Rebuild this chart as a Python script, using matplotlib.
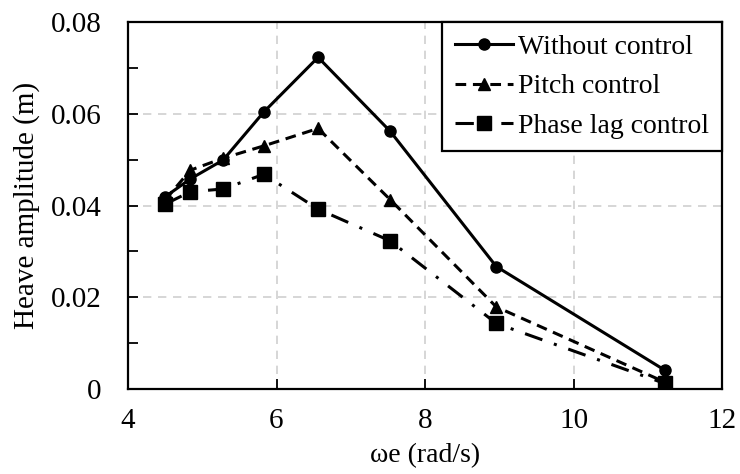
import matplotlib.pyplot as plt
from matplotlib.ticker import MultipleLocator

# values
we = [4.50, 4.84, 5.28, 5.83, 6.56, 7.53, 8.96, 11.23]
without_control = [0.0419, 0.0458, 0.0499, 0.0604, 0.0723, 0.0562, 0.0267, 0.0041]
pitch_control = [0.0412, 0.0477, 0.0503, 0.0530, 0.0568, 0.0413, 0.0179, 0.0015]
phase_lag_control = [0.0403, 0.0430, 0.0436, 0.0468, 0.0392, 0.0323, 0.0143, 0.0012]

plt.rcParams['font.family'] = ['Liberation Serif', 'DejaVu Serif']
plt.rcParams['font.size'] = 21

fig = plt.figure(figsize=(7.4, 4.74), dpi=100)
ax = fig.add_axes([128 / 740, 1 - 389 / 474, 594 / 740, 367 / 474])

ax.plot(we, without_control, color='black', lw=2.2, marker='o', ms=8,
        label='Without control')
ax.plot(we, pitch_control, color='black', lw=2.2, ls=(0, (3.5, 2.2)), marker='^', ms=9,
        label='Pitch control')
ax.plot(we, phase_lag_control, color='black', lw=2.2, ls=(0, (6, 4, 1, 4)), marker='s', ms=10,
        label='Phase lag control')

ax.set_xlim(4, 12)
ax.set_ylim(0, 0.08)
ax.xaxis.set_major_locator(MultipleLocator(2))
ax.yaxis.set_minor_locator(MultipleLocator(0.01))
ax.set_yticks([0, 0.02, 0.04, 0.06, 0.08])
ax.set_yticklabels(['0', '0.02', '0.04', '0.06', '0.08'])

ax.grid(True, which='major', color='#d0d0d0', ls=(0, (5, 4)), lw=1.2)
ax.tick_params(axis='both', which='both', direction='in', width=1.3, colors='black')
ax.tick_params(axis='x', which='major', length=7, pad=14)
ax.tick_params(axis='y', which='major', length=7, pad=19)
ax.tick_params(axis='y', which='minor', length=7)
for s in ax.spines.values():
    s.set_linewidth(1.6)

ax.set_xlabel('ωe (rad/s)', fontsize=20)
ax.xaxis.set_label_coords(0.5, -0.148)
ax.set_ylabel('Heave amplitude (m)')
ax.yaxis.set_label_coords(-0.148, 0.5)

leg = ax.legend(loc='upper right', frameon=True, fancybox=False, borderaxespad=0,
                fontsize=20, handlelength=2.1, handletextpad=0.2,
                labelspacing=0.5, borderpad=0.45)
leg.get_frame().set_edgecolor('black')
leg.get_frame().set_linewidth(1.6)
leg.get_frame().set_alpha(1)

fig.savefig('out.png', dpi=100)
